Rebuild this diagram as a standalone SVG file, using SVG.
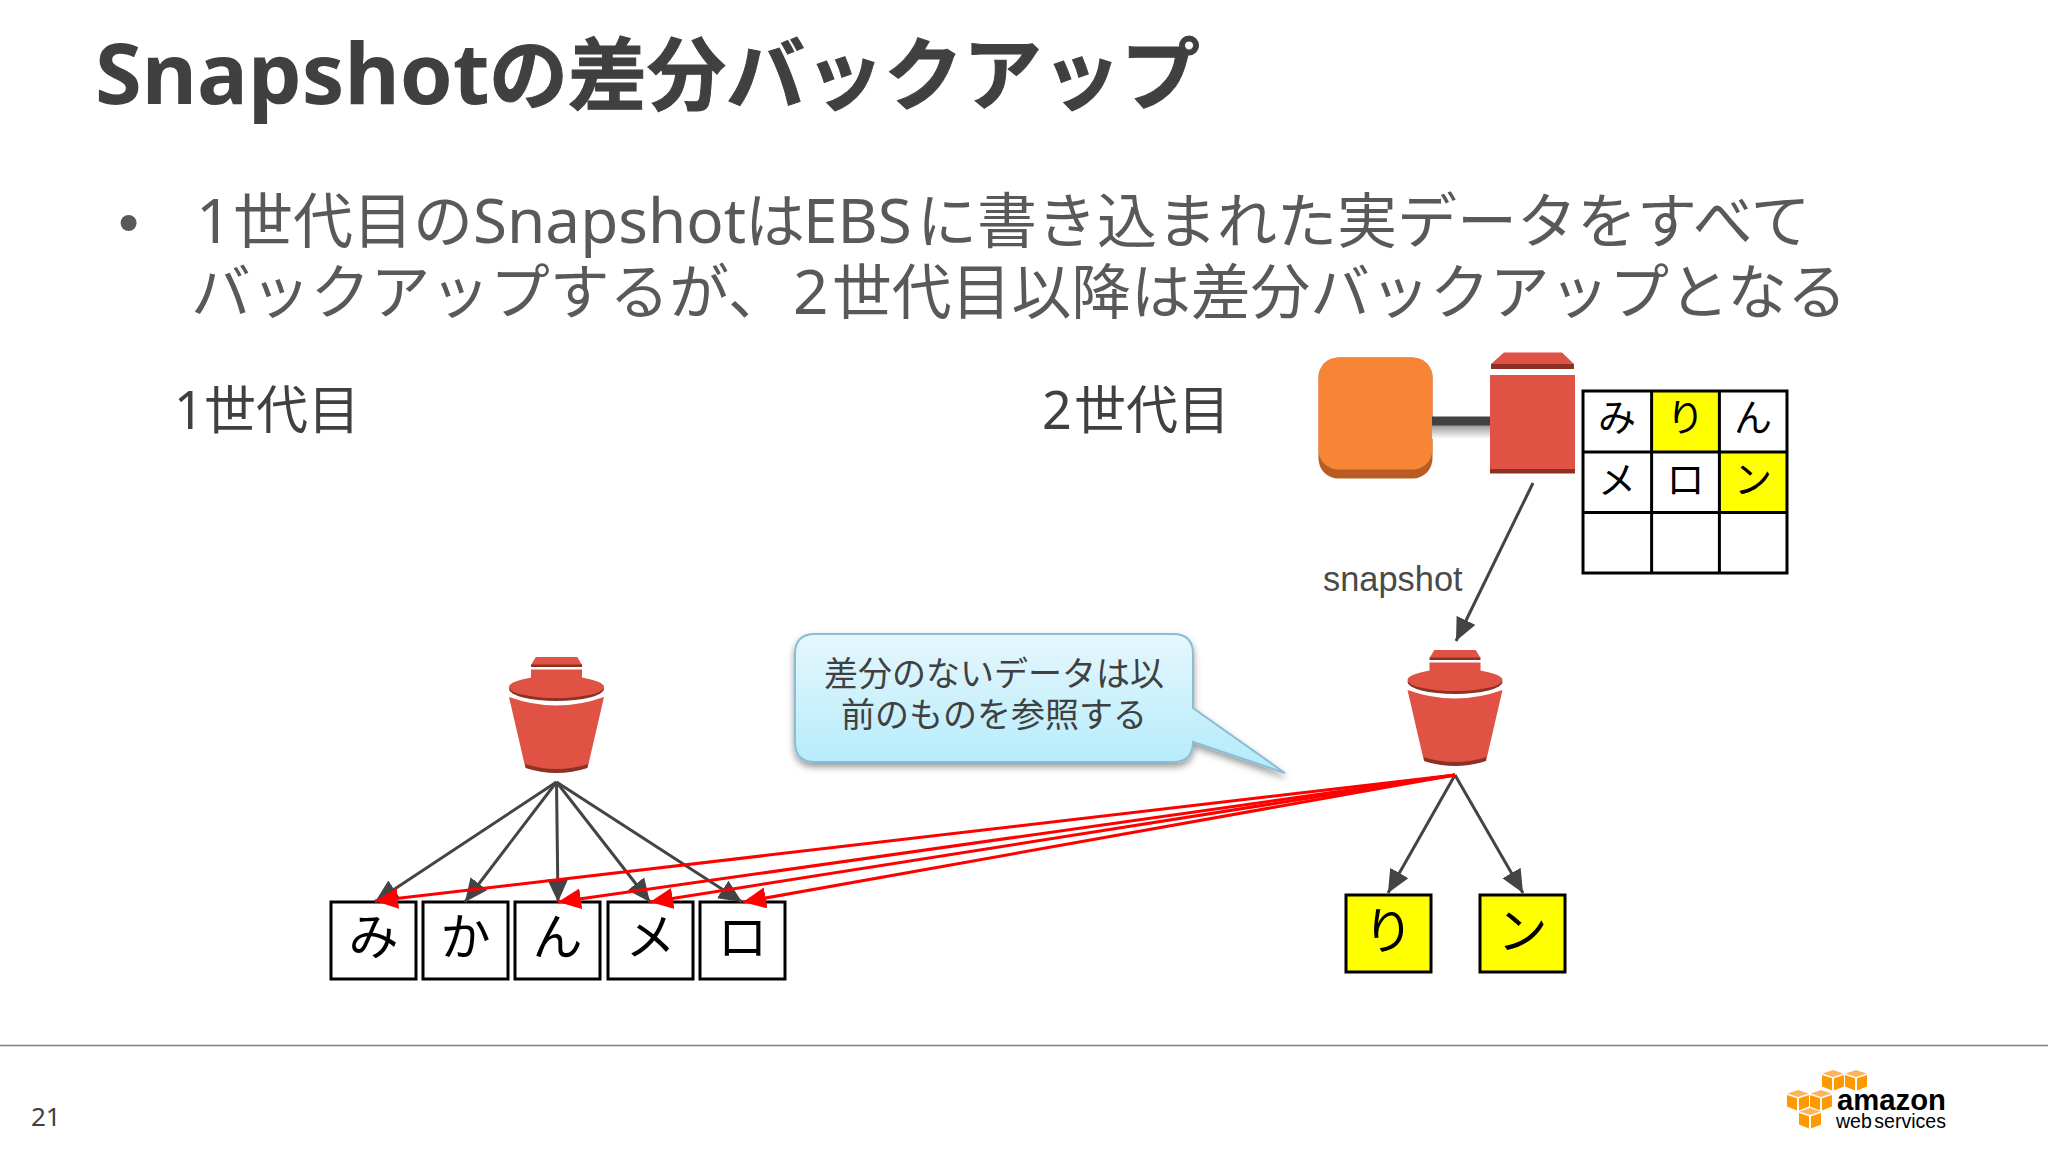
<svg xmlns="http://www.w3.org/2000/svg" xmlns:xlink="http://www.w3.org/1999/xlink" width="2048" height="1152" viewBox="0 0 2048 1152">
<style>
text{font-family:"Noto Sans","Noto Sans CJK JP",sans-serif}
.cjk{font-family:"Noto Sans CJK JP","Noto Sans",sans-serif}
.title{font-size:85px;font-weight:700;fill:#404040}
.tj{font-size:79px;stroke:#404040;stroke-width:1}
.body{font-size:62px;fill:#595959}
.b1{font-size:60px}
.b2{font-size:59.8px}
.gen{font-size:52px;fill:#404040}
.call{font-size:34px;fill:#404040;text-anchor:middle}
.cell{font-size:38px;fill:#000;text-anchor:middle}
.big{font-size:50px;fill:#000;text-anchor:middle}
.box{fill:#fff;stroke:#000;stroke-width:3}
.yel{fill:#ff0;stroke:#000;stroke-width:3}
.g{stroke:#444;stroke-width:3;fill:none;marker-end:url(#ga)}
.r{stroke:#f00;stroke-width:3;fill:none;marker-end:url(#ra)}
.red{fill:#e05243}.dk{fill:#8c3123}
.or{fill:#f90}.ort{fill:#fdb45c}
</style>
<defs>
<marker id="ga" markerUnits="userSpaceOnUse" markerWidth="25" markerHeight="23" refX="23" refY="10.5" orient="auto"><path d="M0,0L23,10.5L0,21Z" fill="#444"/></marker>
<marker id="ra" markerUnits="userSpaceOnUse" markerWidth="25" markerHeight="23" refX="23" refY="10.5" orient="auto"><path d="M0,0L23,10.5L0,21Z" fill="#f00"/></marker>
<linearGradient id="cg" x1="0" y1="0" x2="0" y2="1"><stop offset="0" stop-color="#e6f7fd"/><stop offset="1" stop-color="#b2ebfb"/></linearGradient>
<linearGradient id="sh" x1="0" y1="0" x2="0" y2="1"><stop offset="0" stop-color="#999"/><stop offset="1" stop-color="#fff"/></linearGradient>
<filter id="ds" x="-10%" y="-10%" width="120%" height="125%"><feDropShadow dx="0" dy="4" stdDeviation="3.5" flood-color="#000" flood-opacity=".4"/></filter>
<g id="bucket">
<path class="red" d="M-25.5,8L-20.7,0H20.7L25.5,8Z"/>
<path class="dk" d="M-25.5,7.5H25.5V10H-25.5Z"/>
<rect class="red" x="-25.5" y="12.5" width="51" height="14"/>
<path class="dk" d="M-32,106L-31,111Q0,121 31,111L32,106Z"/>
<path class="red" d="M-47.5,40L-32,107Q0,117 32,107L47.5,40Q0,57 -47.5,40Z"/>
<ellipse class="dk" cx="0" cy="32" rx="47.5" ry="12"/>
<ellipse class="red" cx="0" cy="30" rx="47.5" ry="11"/>
</g>
<g id="cube">
<path class="ort" d="M0,-10L10.5,-6.5L0,-3L-10.5,-6.5Z"/>
<path class="or" d="M-11,-5L-1,-1.8V10.5L-11,6.5Z"/>
<path class="or" d="M11,-5L1,-1.8V10.5L11,6.5Z"/>
</g>
</defs>
<rect width="2048" height="1152" fill="#fff"/>

<g id="title"><text class="title" y="104"><tspan x="95">Snapshot</tspan><tspan x="489" class="cjk tj">の差分バックアップ</tspan></text></g>

<g id="bullets">
<circle cx="128.6" cy="223" r="8" fill="#595959"/>
<text class="body" y="243"><tspan x="196">1</tspan><tspan x="233" class="cjk b1">世代目の</tspan><tspan x="473">Snapshot</tspan><tspan x="745" class="cjk b1">は</tspan><tspan x="803">EBS</tspan><tspan x="917" class="cjk b1">に書き込まれた実データをすべて</tspan></text>
<text class="body" y="314"><tspan x="191" class="cjk b2">バックアップするが、</tspan><tspan x="793">2</tspan><tspan x="832" class="cjk b2">世代目以降は差分バックアップとなる</tspan></text>
</g>

<g id="label-gen1"><text class="gen" y="429"><tspan x="174">1</tspan><tspan x="204" class="cjk">世代目</tspan></text></g>
<g id="label-gen2"><text class="gen" y="429"><tspan x="1042">2</tspan><tspan x="1074" class="cjk">世代目</tspan></text></g>

<g id="instance">
<rect x="1318.5" y="357.5" width="114" height="121" rx="20" fill="#b85c24"/>
<rect x="1318.5" y="357.5" width="114" height="112" rx="20" fill="#f68536"/>
</g>
<g id="attach">
<rect x="1432" y="425" width="58" height="14" fill="url(#sh)"/>
<rect x="1432" y="416.5" width="58" height="9" fill="#414141"/>
</g>
<g id="volume">
<path class="red" d="M1491,364L1504,352.5H1562L1574,364Z"/>
<rect class="dk" x="1491" y="364" width="83" height="5"/>
<rect class="red" x="1490" y="375" width="85" height="94"/>
<rect class="dk" x="1490" y="469" width="85" height="4.5"/>
</g>
<g id="block-table">
<rect x="1651.6" y="391" width="67.8" height="61" fill="#ff0"/>
<rect x="1719.4" y="452" width="67.6" height="60.5" fill="#ff0"/>
<path d="M1583,391H1787V573H1583ZM1651.6,391V573M1719.4,391V573M1583,452H1787M1583,512.5H1787" fill="none" stroke="#000" stroke-width="3"/>
<g class="cjk">
<text class="cell" x="1617" y="431">み</text><text class="cell" x="1685.5" y="431">り</text><text class="cell" x="1753" y="431">ん</text>
<text class="cell" x="1617" y="493">メ</text><text class="cell" x="1685.5" y="493">ロ</text><text class="cell" x="1753" y="493">ン</text>
</g>
</g>

<g id="callout">
<path d="M815,634H1173Q1193,634 1193,654V708L1285,773L1193,742V742Q1193,762 1173,762H815Q795,762 795,742V654Q795,634 815,634Z" fill="url(#cg)" stroke="#8cbcd4" stroke-width="2" filter="url(#ds)"/>
<text class="call cjk" x="994" y="686">差分のないデータは以</text>
<text class="call cjk" x="994" y="727">前のものを参照する</text>
</g>

<g id="bucket-gen1"><use xlink:href="#bucket" href="#bucket" x="556.5" y="657"/></g>
<g id="bucket-gen2"><use xlink:href="#bucket" href="#bucket" x="1455" y="650"/></g>

<g id="gen1-blocks" class="cjk">
<rect class="box" x="331" y="902" width="85" height="77"/><text class="big" x="373.5" y="955">み</text>
<rect class="box" x="423" y="902" width="85" height="77"/><text class="big" x="465.5" y="955">か</text>
<rect class="box" x="515" y="902" width="85" height="77"/><text class="big" x="557.5" y="955">ん</text>
<rect class="box" x="608" y="902" width="85" height="77"/><text class="big" x="650.5" y="955">メ</text>
<rect class="box" x="700" y="902" width="85" height="77"/><text class="big" x="742.5" y="955">ロ</text>
</g>
<g id="gen2-blocks" class="cjk">
<rect class="yel" x="1346" y="895" width="85" height="77"/><text class="big" x="1388.5" y="949">り</text>
<rect class="yel" x="1480" y="895" width="85" height="77"/><text class="big" x="1522.5" y="949">ン</text>
</g>

<g id="connectors">
<line class="g" x1="556.5" y1="782" x2="375" y2="902"/>
<line class="g" x1="556.5" y1="782" x2="465" y2="902"/>
<line class="g" x1="556.5" y1="782" x2="558" y2="902"/>
<line class="g" x1="556.5" y1="782" x2="650" y2="902"/>
<line class="g" x1="556.5" y1="782" x2="742" y2="902"/>
<line class="g" x1="1533" y1="483" x2="1456" y2="641"/>
<line class="g" x1="1455" y1="775" x2="1388" y2="893"/>
<line class="g" x1="1455" y1="775" x2="1523" y2="893"/>
<line class="r" x1="1455" y1="775" x2="375" y2="901"/>
<line class="r" x1="1455" y1="775" x2="558" y2="902"/>
<line class="r" x1="1455" y1="775" x2="650" y2="902"/>
<line class="r" x1="1455" y1="775" x2="743" y2="902"/>
</g>
<g id="label-snapshot"><text x="1323" y="591" font-size="34.4" fill="#4a4a4a" style="font-family:'Liberation Sans',sans-serif">snapshot</text></g>

<g id="footer">
<line x1="0" y1="1045.5" x2="2048" y2="1045.5" stroke="#808080" stroke-width="1.5"/>
<text x="31" y="1126" font-size="26" fill="#404040">21</text>
</g>
<g id="logo">
<use xlink:href="#cube" href="#cube" x="1833" y="1080"/>
<use xlink:href="#cube" href="#cube" x="1856" y="1080"/>
<use xlink:href="#cube" href="#cube" x="1798" y="1100"/>
<use xlink:href="#cube" href="#cube" x="1821" y="1100"/>
<use xlink:href="#cube" href="#cube" x="1810" y="1118"/>
<text x="1837" y="1110" font-size="29" font-weight="700" fill="#000" style="font-family:'Liberation Sans',sans-serif" textLength="109" lengthAdjust="spacingAndGlyphs">amazon</text>
<text x="1836" y="1128" font-size="20" fill="#000" style="font-family:'Liberation Sans',sans-serif" textLength="110" lengthAdjust="spacingAndGlyphs" word-spacing="-3">web services</text>
</g>
</svg>
